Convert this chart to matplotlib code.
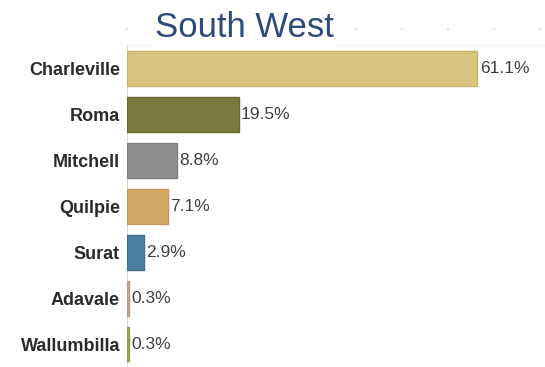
import matplotlib.pyplot as plt

# share of population by town, South West region
towns = ["Charleville", "Roma", "Mitchell", "Quilpie", "Surat", "Adavale", "Wallumbilla"]
share = [61.1, 19.5, 8.8, 7.1, 2.9, 0.3, 0.3]
fill = ["#D8C47F", "#7B7A3E", "#8F8F8F", "#D2A865", "#4C80A3", "#C9AE96", "#A0AA66"]
edge = ["#C8B26C", "#6A6932", "#7E7E7E", "#C0955A", "#3F6E90", "#B89C84", "#8F9958"]
top_ticks = [0, 8, 16, 24, 32, 40, 48, 56, 64, 72]

plt.rcParams['font.family'] = ['Liberation Sans', 'DejaVu Sans']

fig = plt.figure(figsize=(5.45, 3.67), dpi=100)
ax = fig.add_axes([0.233, 0.0, 0.767, 0.877])

pos = list(range(len(towns)))
ax.barh(pos, share, height=0.76, color=fill, edgecolor=edge, linewidth=1.0, zorder=3)

for p, v in zip(pos, share):
    ax.text(v + 0.4, p, "%.1f%%" % v, va="center", ha="left",
            fontsize=12.5, color="#404040")

ax.set_xlim(0, 72.9)
ax.set_ylim(len(towns) - 0.5, -0.5)
ax.set_yticks(pos)
ax.set_yticklabels(towns, fontsize=13, fontweight="bold", color="#2a2a2a")
ax.tick_params(axis="y", length=0, pad=5)
ax.set_xticks([])

for s in ["right", "bottom"]:
    ax.spines[s].set_visible(False)
ax.spines["left"].set_color("#d9d9d9")
ax.spines["top"].set_color("#eeeeee")

# faint dotted marks above the plot
sec = ax.secondary_xaxis(1.05)
sec.set_xticks(top_ticks)
sec.set_xticklabels([])
sec.tick_params(length=1.5, width=1.5, color="#dddddd", direction="inout")
sec.spines["top"].set_visible(False)

fig.text(0.448, 0.925, "South West", ha="center", va="center", fontsize=25,
         color="#2E4A7A", bbox=dict(facecolor="white", edgecolor="none", pad=2))

fig.savefig("out.png", dpi=100)
